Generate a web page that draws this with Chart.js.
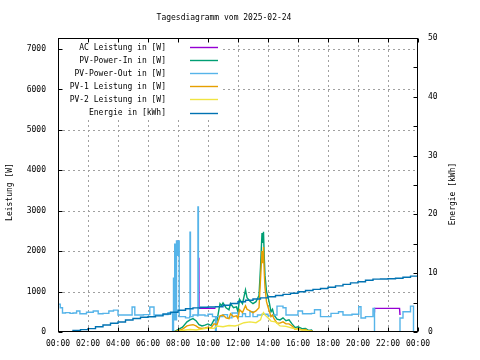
<!DOCTYPE html>
<html><head><meta charset="utf-8">
<script src="https://cdn.jsdelivr.net/npm/chart.js@4/dist/chart.umd.min.js"></script>
<style>html,body{margin:0;padding:0;background:#fff}canvas{display:block}</style>
</head><body>
<canvas id="c" width="480" height="360"></canvas>
<script>
const chartTitle = 'Tagesdiagramm vom 2025-02-24';
const leftAxisTitle = 'Leistung [W]';
const rightAxisTitle = 'Energie [kWh]';
const xTickLabels = ['00:00','02:00','04:00','06:00','08:00','10:00','12:00','14:00','16:00','18:00','20:00','22:00','00:00'];
const leftTickValues = [0,1000,2000,3000,4000,5000,6000,7000];
const rightTickValues = [0,10,20,30,40,50];
const seriesLabels = ['AC Leistung in [W]','PV-Power-In in [W]','PV-Power-Out in [W]','PV-1 Leistung in [W]','PV-2 Leistung in [W]','Energie in [kWh]'];
const seriesColors = ['#9400d3','#009e73','#56b4e9','#e69f00','#f0e442','#0072b2'];

// AC Leistung [W]
const acTimes  = [7.98, 8.02, 8.03, 9.39, 9.40, 10.5, 10.52, 21.08, 21.1, 22.77, 22.8];
const acValues = [2250, 2260, null, 1835, 585, 585, null, 500, 585, 585, 420];

// PV-Power-In [W]
const pvInTimes  = [7.6,7.8,8.0,8.3,8.6,8.8,9.0,9.2,9.4,9.6,9.8,10.0,10.2,10.4,10.6,10.8,10.9,11.0,11.2,11.4,11.5,11.7,11.9,12.0,12.1,12.3,12.5,12.6,12.8,13.0,13.2,13.4,13.5,13.6,13.65,13.7,13.75,13.8,13.9,14.0,14.1,14.2,14.3,14.4,14.6,14.8,15.0,15.2,15.4,15.6,15.8,16.0,16.3,16.5,16.7,16.9,17.0,17.5];
const pvInValues = [0,20,60,120,250,300,330,280,180,150,170,200,160,300,280,700,650,720,600,550,700,600,620,500,810,700,1040,850,760,700,750,900,1600,2450,2200,2480,1860,1400,1000,870,700,500,560,420,320,300,350,280,300,200,110,130,80,90,40,50,0,0];

// PV-Power-Out [W]
const pvOutTimes  = [0.0,0.15,0.3,0.5,0.8,1.0,1.24,1.46,1.9,2.35,2.68,3.0,3.39,3.7,4.0,4.5,4.94,5.12,5.7,6.12,6.4,7.0,7.33,7.6,7.64,7.70,7.74,7.78,7.82,7.90,7.97,8.05,8.08,8.5,8.78,8.8,8.83,9.0,9.3,9.33,9.36,9.8,10.0,10.3,10.45,10.5,10.55,11.0,11.3,11.6,12.0,12.3,12.5,12.8,13.0,13.3,13.6,14.0,14.3,14.6,15.0,15.2,15.8,16.0,16.3,16.9,17.1,17.5,18.2,18.7,19.0,19.6,20.05,20.2,20.5,21.0,21.1,22.75,22.8,23.0,23.5,23.7,24.0];
const pvOutValues = [690,600,470,480,460,470,520,450,490,520,450,460,520,540,420,420,620,420,430,620,420,430,480,470,0,1330,300,2170,300,2250,1900,2250,380,350,380,2470,380,420,400,3090,420,400,440,380,380,0,380,430,350,470,380,450,380,500,380,420,440,400,420,640,600,420,420,520,450,460,550,380,460,500,420,440,625,345,380,580,0,0,345,500,640,0,0];

// PV-1 Leistung [W]
const pv1Times  = [7.6,7.8,8.0,8.3,8.6,8.8,9.0,9.2,9.4,9.6,9.8,10.0,10.2,10.4,10.6,10.8,11.0,11.2,11.4,11.5,11.7,11.9,12.0,12.1,12.3,12.5,12.6,12.8,13.0,13.2,13.4,13.5,13.6,13.65,13.7,13.75,13.8,13.9,14.0,14.1,14.2,14.3,14.4,14.6,14.8,15.0,15.2,15.4,15.6,15.8,16.0,16.3,16.5,16.7,16.9,17.0,17.5];
const pv1Values = [0,10,30,70,150,170,180,150,100,90,100,120,100,200,180,400,420,350,330,450,380,400,330,550,480,650,560,520,480,520,600,1300,2000,1700,2100,1470,1100,750,620,500,380,420,330,220,220,250,200,200,150,70,80,50,60,20,30,5,0];

// PV-2 Leistung [W]
const pv2Times  = [7.6,8.0,8.5,8.8,9.2,9.6,10.0,10.4,10.6,11.0,11.4,11.8,12.0,12.4,12.8,13.2,13.5,13.6,13.7,13.8,14.0,14.2,14.5,14.8,15.2,15.6,16.0,16.5,17.0,17.5];
const pv2Values = [0,20,50,60,50,70,100,90,150,130,160,150,170,230,250,230,300,420,480,420,350,270,250,150,140,100,60,40,10,0];

// Energie [kWh]
const energyTimes  = [0,0.5,1,1.5,2,2.5,3,3.5,4,4.5,5,5.5,6,6.5,7,7.5,8,8.5,9,9.5,10,10.5,11,11.5,12,12.5,13,13.5,14,14.5,15,15.5,16,16.5,17,17.5,18,18.5,19,19.5,20,20.5,21,21.5,22,22.5,23,23.5,24];
const energyValues = [0,0.06,0.25,0.4,0.57,0.9,1.2,1.5,1.7,2.05,2.3,2.5,2.6,2.75,3.05,3.35,3.7,3.95,4.1,4.2,4.25,4.3,4.55,4.85,5.15,5.4,5.6,5.8,6.0,6.2,6.4,6.6,6.85,7.05,7.25,7.4,7.6,7.85,8.1,8.35,8.55,8.8,9.0,9.02,9.05,9.15,9.3,9.5,9.55];

const FONT = 'DejaVu Sans Mono';
const FS = 8;

function pts(t, v){ return t.map((x,i)=>({x:x, y:v[i]})); }

const seriesData = [
  {t:acTimes, v:acValues, axis:'y', stepped:false},
  {t:pvInTimes, v:pvInValues, axis:'y', stepped:false},
  {t:pvOutTimes, v:pvOutValues, axis:'y', stepped:'before'},
  {t:pv1Times, v:pv1Values, axis:'y', stepped:false},
  {t:pv2Times, v:pv2Values, axis:'y', stepped:false},
  {t:energyTimes, v:energyValues, axis:'y2', stepped:'before'}
];

const datasets = seriesData.map((s,i)=>({
  label: seriesLabels[i],
  data: pts(s.t, s.v),
  yAxisID: s.axis,
  borderColor: seriesColors[i],
  backgroundColor: seriesColors[i],
  borderWidth: 1.4,
  pointRadius: 0,
  fill: false,
  tension: 0,
  stepped: s.stepped,
  spanGaps: false,
  order: seriesData.length - i
}));

const LEGEND_BOX = {x2: 222, y2: 118};

const gnuplotPlugin = {
  id: 'gnuplot',
  beforeDatasetsDraw(chart){
    const ctx = chart.ctx, a = chart.chartArea;
    const xs = chart.scales.x, ys = chart.scales.y;
    ctx.save();
    ctx.beginPath();
    ctx.rect(a.left, a.top, a.right - a.left, a.bottom - a.top);
    ctx.rect(a.left, a.top, LEGEND_BOX.x2 - a.left, LEGEND_BOX.y2 - a.top);
    ctx.clip('evenodd');
    ctx.strokeStyle = '#a0a0a0';
    ctx.lineWidth = 1;
    ctx.setLineDash([2,3]);
    for (let h = 2; h < 24; h += 2){
      const px = Math.round(xs.getPixelForValue(h)) + 0.5;
      ctx.beginPath(); ctx.moveTo(px, a.bottom); ctx.lineTo(px, a.top); ctx.stroke();
    }
    leftTickValues.forEach(w=>{
      if (w === 0) return;
      const py = Math.round(ys.getPixelForValue(w)) + 0.5;
      ctx.beginPath(); ctx.moveTo(a.left, py); ctx.lineTo(a.right, py); ctx.stroke();
    });
    ctx.restore();
  },
  afterDatasetsDraw(chart){
    const ctx = chart.ctx, a = chart.chartArea;
    const xs = chart.scales.x, ys = chart.scales.y, y2 = chart.scales.y2;
    ctx.save();
    ctx.strokeStyle = '#000'; ctx.lineWidth = 1; ctx.setLineDash([]);
    const L = Math.round(a.left)+0.5, R = Math.round(a.right)-0.5, T = Math.round(a.top)+0.5, B = Math.round(a.bottom)-0.5;
    ctx.beginPath();
    for (let h = 0; h <= 24; h += 2){
      const px = Math.round(xs.getPixelForValue(h)) + 0.5;
      ctx.moveTo(px, B); ctx.lineTo(px, B-4);
      ctx.moveTo(px, T); ctx.lineTo(px, T+4);
    }
    leftTickValues.forEach(w=>{
      const py = Math.round(ys.getPixelForValue(w)) + 0.5;
      ctx.moveTo(L, py); ctx.lineTo(L+4, py);
    });
    for (let e = 0; e <= 50; e += 5){
      const py = Math.round(y2.getPixelForValue(e)) + 0.5;
      ctx.moveTo(R, py); ctx.lineTo(R-4, py);
    }
    ctx.stroke();
    ctx.strokeRect(L, T, R-L, B-T);
    ctx.font = FS + 'px "' + FONT + '"';
    ctx.textAlign = 'right';
    ctx.textBaseline = 'middle';
    chart.data.datasets.forEach((ds, i)=>{
      const y = 47 + i*13.1;
      ctx.fillStyle = '#000';
      ctx.fillText(ds.label, 166, y + 0.5);
      ctx.strokeStyle = ds.borderColor;
      ctx.lineWidth = 1.4;
      ctx.beginPath(); ctx.moveTo(190, Math.round(y)+0.5); ctx.lineTo(218, Math.round(y)+0.5); ctx.stroke();
    });
    ctx.fillStyle = '#000';
    ctx.textAlign = 'center';
    ctx.fillText(chartTitle, 224, 18);
    ctx.save(); ctx.translate(10, 192); ctx.rotate(-Math.PI/2); ctx.fillText(leftAxisTitle, 0, 0); ctx.restore();
    ctx.save(); ctx.translate(453, 194); ctx.rotate(-Math.PI/2); ctx.fillText(rightAxisTitle, 0, 0); ctx.restore();
    ctx.restore();
  }
};

const tickFont = {family: FONT, size: FS};

new Chart(document.getElementById('c'), {
  type: 'line',
  data: {datasets: datasets},
  options: {
    responsive: false,
    animation: false,
    devicePixelRatio: 1,
    layout: {padding: {top: 38, left: 0, right: 0, bottom: 0}},
    plugins: {legend: {display: false}, title: {display: false}, tooltip: {enabled: false}},
    events: [],
    scales: {
      x: {
        type: 'linear', min: 0, max: 24,
        grid: {display: false, drawTicks: false},
        border: {display: false},
        ticks: {stepSize: 2, autoSkip: false, maxRotation: 0, color: '#000', font: tickFont, padding: 7,
          callback: (v)=> xTickLabels[Math.round(v/2)]},
        afterFit: (s)=>{ s.height = 28; }
      },
      y: {
        type: 'linear', position: 'left', min: 0, max: 7272,
        grid: {display: false, drawTicks: false},
        border: {display: false},
        ticks: {autoSkip: false, color: '#000', font: tickFont, padding: 12, callback: (v)=> String(v)},
        afterBuildTicks: (s)=>{ s.ticks = leftTickValues.map(v=>({value: v})); },
        afterFit: (s)=>{ s.width = 58; }
      },
      y2: {
        type: 'linear', position: 'right', min: 0, max: 50,
        grid: {display: false, drawTicks: false},
        border: {display: false},
        ticks: {autoSkip: false, color: '#000', font: tickFont, padding: 10, callback: (v)=> String(v)},
        afterBuildTicks: (s)=>{ s.ticks = rightTickValues.map(v=>({value: v})); },
        afterFit: (s)=>{ s.width = 62; }
      }
    }
  },
  plugins: [gnuplotPlugin]
});
</script>
</body></html>
